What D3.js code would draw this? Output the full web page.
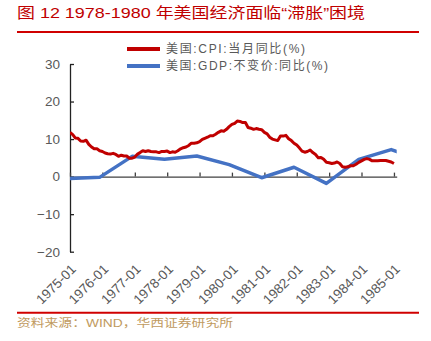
<!DOCTYPE html>
<html>
<head>
<meta charset="utf-8">
<script src="https://cdn.jsdelivr.net/npm/d3@7"></script>
<style>
  body { margin: 0; background: #fff; }
  svg { display: block; font-family: "Liberation Sans", "Noto Sans CJK SC", sans-serif; }
</style>
</head>
<body>
<svg id="chart" width="431" height="341"></svg>
<script>
// US CPI yoy (%), monthly 1975-01 .. 1985-01
const cpiStart = '1975-01';
const cpiValues = [
  11.8, 11.2, 10.3, 10.2, 9.5, 9.4, 9.7, 8.6, 7.9, 7.4, 7.4, 6.9,
  6.7, 6.3, 6.1, 6.0, 6.2, 5.9, 5.4, 5.7, 5.5, 5.5, 4.9, 4.9,
  5.2, 6.0, 6.4, 6.9, 6.7, 6.9, 6.7, 6.6, 6.6, 6.4, 6.7, 6.7,
  6.8, 6.4, 6.6, 6.5, 6.9, 7.4, 7.7, 7.9, 8.3, 8.9, 8.9, 9.0,
  9.3, 9.9, 10.2, 10.5, 10.9, 10.9, 11.3, 11.8, 12.2, 12.1, 12.6, 13.3,
  13.9, 14.2, 14.8, 14.7, 14.4, 14.4, 13.1, 12.9, 12.6, 12.8, 12.6, 12.5,
  11.8, 11.4, 10.5, 10.0, 9.8, 9.6, 10.8, 10.8, 11.0, 10.1, 9.6, 8.9,
  8.4, 7.6, 6.8, 6.5, 6.7, 7.1, 6.4, 5.9, 5.0, 5.1, 4.6, 3.8,
  3.7, 3.5, 3.6, 3.9, 3.5, 2.6, 2.5, 2.6, 2.9, 2.9, 3.3, 3.8,
  4.2, 4.6, 4.8, 4.6, 4.2, 4.2, 4.2, 4.3, 4.3, 4.3, 4.1, 3.9,
  3.5
];

// US real GDP yoy (%), annual, dated at year end
const gdpDates = ['1974-12', '1975-12', '1976-12', '1977-12', '1978-12', '1979-12',
                  '1980-12', '1981-12', '1982-12', '1983-12', '1984-12', '1985-12'];
const gdpValues = [-0.5, -0.2, 5.4, 4.6, 5.5, 3.2, -0.3, 2.5, -1.8, 4.6, 7.2, 4.2];

const xTicks = ['1975-01', '1976-01', '1977-01', '1978-01', '1979-01', '1980-01',
                '1981-01', '1982-01', '1983-01', '1984-01', '1985-01'];
const yTicks = [-20, -10, 0, 10, 20, 30];

const seriesNames = ['美国:CPI:当月同比(%)', '美国:GDP:不变价:同比(%)'];
const seriesColors = ['#c00000', '#4472c4'];

const parseMonth = d3.timeParse('%Y-%m');
const svg = d3.select('#chart');

const cpi = cpiValues.map(function(v, i){
    return {date: d3.timeMonth.offset(parseMonth(cpiStart), i), value: v};
});
const gdp = gdpDates.map(function(d, i){
    return {date: parseMonth(d), value: gdpValues[i]};
});

const x = d3.scaleTime()
    .domain([parseMonth('1975-01'), parseMonth('1985-02')])
    .range([70, 396.7]);
const y = d3.scaleLinear()
    .domain([-20, 30])
    .range([251.7, 64]);

// title + red rules
svg.append('text')
    .attr('x', 17).attr('y', 18)
    .attr('fill', '#c00000')
    .style('font-size', '15px')
    .attr('textLength', 348).attr('lengthAdjust', 'spacingAndGlyphs')
    .text('图 12 1978-1980 年美国经济面临“滞胀”困境');
svg.append('line')
    .attr('x1', 17).attr('x2', 419).attr('y1', 32).attr('y2', 32)
    .attr('stroke', '#d00000').attr('stroke-width', 2);
svg.append('line')
    .attr('x1', 17).attr('x2', 419).attr('y1', 312.7).attr('y2', 312.7)
    .attr('stroke', '#d00000').attr('stroke-width', 2);
svg.append('text')
    .attr('x', 17).attr('y', 327)
    .attr('fill', '#bf9a5e')
    .style('font-size', '11.5px')
    .attr('textLength', 216).attr('lengthAdjust', 'spacingAndGlyphs')
    .text('资料来源：WIND，华西证券研究所');

// y axis
const yAxis = svg.append('g')
    .attr('transform', 'translate(70,0)')
    .call(d3.axisLeft(y).tickValues(yTicks).tickSizeInner(-4).tickSizeOuter(0).tickPadding(10));
yAxis.select('.domain').attr('stroke', '#222').attr('stroke-width', 1.3);
yAxis.selectAll('.tick line').attr('stroke', '#222').attr('stroke-width', 1.3);
yAxis.selectAll('text').attr('fill', '#595959').style('font-size', '13.5px');

// zero line with up ticks
const xAxis = svg.append('g')
    .attr('transform', 'translate(0,' + y(0) + ')')
    .call(d3.axisBottom(x).tickValues(xTicks.map(parseMonth)).tickSizeInner(-4).tickSizeOuter(0).tickFormat(''));
xAxis.select('.domain').attr('stroke', '#404040').attr('stroke-width', 1.3);
xAxis.selectAll('.tick line').attr('stroke', '#404040').attr('stroke-width', 1.3);

// rotated date labels below the plot
const labelAxis = svg.append('g')
    .attr('transform', 'translate(0,' + y(-20) + ')')
    .call(d3.axisBottom(x).tickValues(xTicks.map(parseMonth)).tickSize(0).tickFormat(d3.timeFormat('%Y-%m')));
labelAxis.select('.domain').remove();
labelAxis.selectAll('text')
    .attr('x', 0).attr('y', 0).attr('dy', '0.35em')
    .attr('text-anchor', 'end')
    .attr('transform', 'translate(3,15) rotate(-45)')
    .attr('fill', '#595959')
    .style('font-size', '13.5px');

// clip to plot
svg.append('clipPath').attr('id', 'plotClip')
    .append('rect')
    .attr('x', x.range()[0]).attr('y', y.range()[1] - 10)
    .attr('width', x.range()[1] - x.range()[0])
    .attr('height', y.range()[0] - y.range()[1] + 20);

const line = d3.line()
    .x(function(d){ return x(d.date); })
    .y(function(d){ return y(d.value); });

const plot = svg.append('g').attr('clip-path', 'url(#plotClip)');
plot.append('path')
    .datum(gdp)
    .attr('d', line)
    .attr('fill', 'none')
    .attr('stroke', seriesColors[1])
    .attr('stroke-width', 3.5)
    .attr('stroke-linejoin', 'round');
plot.append('path')
    .datum(cpi)
    .attr('d', line)
    .attr('fill', 'none')
    .attr('stroke', seriesColors[0])
    .attr('stroke-width', 3)
    .attr('stroke-linejoin', 'round');

// legend
const legend = svg.append('g')
    .selectAll('g')
    .data(seriesNames)
    .enter()
    .append('g')
    .attr('transform', function(d, i){ return 'translate(127,' + (49 + i * 17) + ')'; });
legend.append('line')
    .attr('x1', 0).attr('x2', 33)
    .attr('stroke', function(d, i){ return seriesColors[i]; })
    .attr('stroke-width', 4);
legend.append('text')
    .attr('x', 39).attr('dy', '0.35em')
    .attr('fill', '#595959')
    .style('font-size', '12px')
    .attr('textLength', function(d, i){ return i === 0 ? 139 : 162; })
    .attr('lengthAdjust', 'spacing')
    .text(function(d){ return d; });
</script>
</body>
</html>
